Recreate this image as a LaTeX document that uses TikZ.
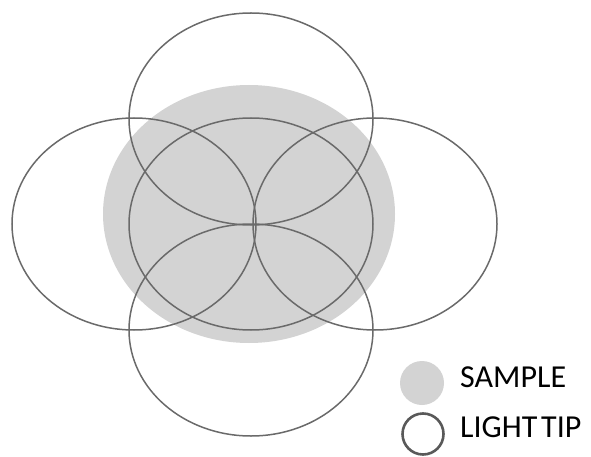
\documentclass[tikz,border=0pt]{standalone}
\usepackage{fontspec}
\setmainfont{Carlito}
\usetikzlibrary{positioning}
\definecolor{samplegray}{HTML}{D3D3D3}
\definecolor{tipgray}{HTML}{6A6A6A}

\begin{document}
\begin{tikzpicture}[x=1pt, y=-1pt,
    sample/.style = {fill=samplegray, draw=none},
    tip/.style    = {draw=tipgray, line width=1.5pt},
    key/.style    = {circle, minimum size=44pt, inner sep=0pt},
    legend/.style = {font=\fontsize{32}{36}\selectfont, anchor=base west,
                     inner sep=0pt, text=black}
  ]
  \useasboundingbox (0,0) rectangle (591,457);

  % sample area and the five light tips
  \fill[sample] (249,214) ellipse [x radius=146, y radius=129];
  \foreach \cx/\cy in {251/119, 134/224, 251/224, 375/224, 251/330}
    \draw[tip] (\cx,\cy) ellipse [x radius=122, y radius=106];

  % legend
  \node[key, fill=samplegray] (samplekey) at (422,383) {};
  \node[key, draw=black!65, line width=2.6pt, minimum size=41pt] (tipkey) at (423,434) {};
  \node[legend] (samplelbl) at (460,387) {SAMPLE};
  \node[legend] (tiplbl)    at (460,437) {LIGHT\hspace{0.12em}TIP};
\end{tikzpicture}
\end{document}
